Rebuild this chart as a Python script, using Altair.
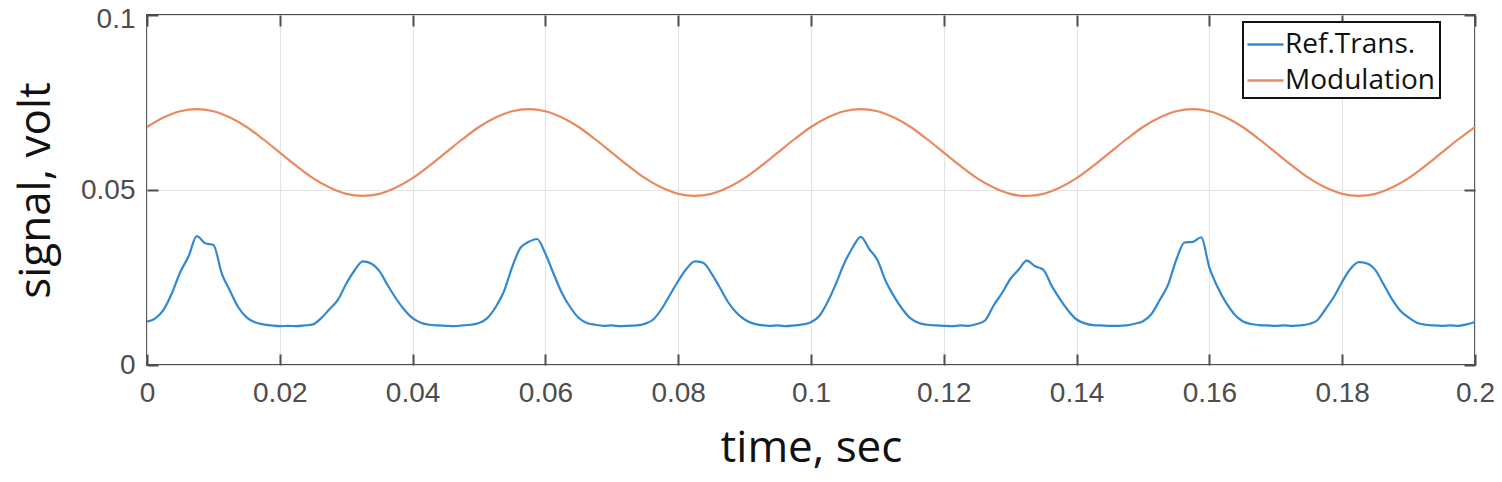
import altair as alt
import pandas as pd

# ---- data ----
ref_step = 0.00125
ref_trans = [
    0.0124, 0.0133, 0.0158, 0.0205, 0.0265, 0.0310, 0.0368, 0.0348, 0.0343, 0.0262,
    0.0212, 0.0165, 0.0136, 0.0122, 0.0116, 0.0113, 0.0111, 0.0112, 0.0111, 0.0113,
    0.0116, 0.0134, 0.0160, 0.0186, 0.0232, 0.0270, 0.0296, 0.0290, 0.0268, 0.0228,
    0.0190, 0.0158, 0.0134, 0.0121, 0.0115, 0.0113, 0.0112, 0.0111, 0.0113, 0.0115,
    0.0120, 0.0134, 0.0165, 0.0210, 0.0280, 0.0335, 0.0352, 0.0360, 0.0318, 0.0260,
    0.0205, 0.0165, 0.0135, 0.0120, 0.0115, 0.0112, 0.0113, 0.0111, 0.0112, 0.0113,
    0.0118, 0.0130, 0.0160, 0.0200, 0.0240, 0.0275, 0.0296, 0.0292, 0.0262, 0.0222,
    0.0180, 0.0150, 0.0130, 0.0119, 0.0114, 0.0112, 0.0113, 0.0111, 0.0113, 0.0116,
    0.0122, 0.0140, 0.0180, 0.0232, 0.0290, 0.0335, 0.0366, 0.0332, 0.0300, 0.0240,
    0.0196, 0.0160, 0.0133, 0.0120, 0.0115, 0.0113, 0.0112, 0.0111, 0.0113, 0.0112,
    0.0117, 0.0128, 0.0170, 0.0205, 0.0245, 0.0272, 0.0298, 0.0282, 0.0272, 0.0226,
    0.0188, 0.0155, 0.0130, 0.0119, 0.0114, 0.0113, 0.0112, 0.0112, 0.0113, 0.0118,
    0.0125, 0.0145, 0.0185, 0.0228, 0.0300, 0.0350, 0.0352, 0.0365, 0.0278, 0.0222,
    0.0178, 0.0145, 0.0125, 0.0117, 0.0114, 0.0113, 0.0112, 0.0113, 0.0112, 0.0113,
    0.0117, 0.0128, 0.0160, 0.0195, 0.0238, 0.0275, 0.0294, 0.0290, 0.0271, 0.0230,
    0.0188, 0.0155, 0.0136, 0.0121, 0.0115, 0.0113, 0.0112, 0.0113, 0.0112, 0.0116,
    0.0123,
]

mod_step = 0.0025
modulation = [
    0.0680, 0.0707, 0.0725, 0.0731, 0.0725, 0.0707, 0.0680, 0.0645, 0.0607, 0.0569,
    0.0534, 0.0507, 0.0489, 0.0483, 0.0489, 0.0507, 0.0534, 0.0569, 0.0607, 0.0645,
    0.0680, 0.0707, 0.0725, 0.0731, 0.0725, 0.0707, 0.0680, 0.0645, 0.0607, 0.0569,
    0.0534, 0.0507, 0.0489, 0.0483, 0.0489, 0.0507, 0.0534, 0.0569, 0.0607, 0.0645,
    0.0680, 0.0707, 0.0725, 0.0731, 0.0725, 0.0707, 0.0680, 0.0645, 0.0607, 0.0569,
    0.0534, 0.0507, 0.0489, 0.0483, 0.0489, 0.0507, 0.0534, 0.0569, 0.0607, 0.0645,
    0.0680, 0.0707, 0.0725, 0.0731, 0.0725, 0.0707, 0.0680, 0.0645, 0.0607, 0.0569,
    0.0534, 0.0507, 0.0489, 0.0483, 0.0489, 0.0507, 0.0534, 0.0569, 0.0607, 0.0645,
    0.0680,
]

series_names = ["Ref.Trans.", "Modulation"]
series_colors = ["#3389d0", "#e8895f"]
x_ticks = [0, 0.02, 0.04, 0.06, 0.08, 0.1, 0.12, 0.14, 0.16, 0.18, 0.2]
y_ticks = [0, 0.05, 0.1]

rows = []
for i, v in enumerate(ref_trans):
    rows.append({"t": round(i * ref_step, 6), "v": v, "series": series_names[0]})
for i, v in enumerate(modulation):
    rows.append({"t": round(i * mod_step, 6), "v": v, "series": series_names[1]})
df = pd.DataFrame(rows)

W, H = 1328, 350
AXIS_GRAY = "#4d4d4d"
xs = alt.Scale(domain=[0, 0.2], nice=False, zero=False)
ys = alt.Scale(domain=[0, 0.1], nice=False)

main = alt.Chart(df).mark_line(strokeWidth=2.2, interpolate="monotone").encode(
    x=alt.X("t:Q", scale=xs, axis=alt.Axis(
        values=x_ticks, format="~g", orient="bottom", title="time, sec", ticks=False, domain=False,
        grid=True, gridColor="#e3e3e3", gridWidth=1.2, labelFlush=False,
        labelFont="Liberation Sans", labelFontSize=28, labelColor=AXIS_GRAY, labelPadding=14,
        titleFont="Open Sans", titleFontSize=44, titleFontWeight="normal", titleColor="#111111",
        titlePadding=19)),
    y=alt.Y("v:Q", scale=ys, axis=alt.Axis(
        values=y_ticks, format="~g", orient="left", title="signal, volt", ticks=False, domain=False,
        grid=True, gridColor="#e3e3e3", gridWidth=1.2, labelFlush=False,
        labelOffset={"condition": {"test": "datum.value >= 0.099", "value": 4}, "value": 0},
        labelFont="Liberation Sans", labelFontSize=28, labelColor=AXIS_GRAY, labelPadding=12,
        titleFont="Open Sans", titleFontSize=44, titleFontWeight="normal", titleColor="#111111",
        titlePadding=22)),
    color=alt.Color("series:N", scale=alt.Scale(domain=series_names, range=series_colors),
                    legend=alt.Legend(
                        title="\u00a0\u00a0\u00a0", titleOrient="right", titleFontSize=28,
                        titlePadding=2,
                        orient="none", legendX=1096, legendY=7,
                        symbolType="stroke", symbolSize=1300, symbolStrokeWidth=2.5,
                        labelFont="Open Sans", labelFontSize=28, labelColor="#111111",
                        labelOffset=0, rowPadding=2, padding=3,
                        strokeColor="#111111", fillColor="white")),
)

def tick_axis(orient, offset):
    return alt.Axis(values=(x_ticks if orient in ("top", "bottom") else y_ticks),
                    orient=orient, offset=offset, labels=False, title=None,
                    domain=False, grid=False, ticks=True, tickSize=11,
                    tickWidth=2, tickColor=AXIS_GRAY)

ticks_a = alt.Chart(df).mark_line(opacity=0).encode(
    x=alt.X("t:Q", scale=xs, axis=tick_axis("top", -H)),
    y=alt.Y("v:Q", scale=ys, axis=tick_axis("right", -W)),
)
ticks_b = alt.Chart(df).mark_line(opacity=0).encode(
    x=alt.X("t:Q", scale=xs, axis=tick_axis("bottom", -H)),
    y=alt.Y("v:Q", scale=ys, axis=tick_axis("left", -W)),
)

chart = alt.layer(main, ticks_a, ticks_b).resolve_axis(
    x="independent", y="independent"
).properties(
    width=W, height=H,
    autosize=alt.AutoSizeParams(type="none"),
    padding={"left": 139, "top": 7, "right": 19, "bottom": 108},
    background="white",
).configure_view(
    stroke=AXIS_GRAY, strokeWidth=2
).configure_legend(
    strokeWidth=2
)

chart.save("out.html", embed_options={"renderer": "svg", "actions": False})
